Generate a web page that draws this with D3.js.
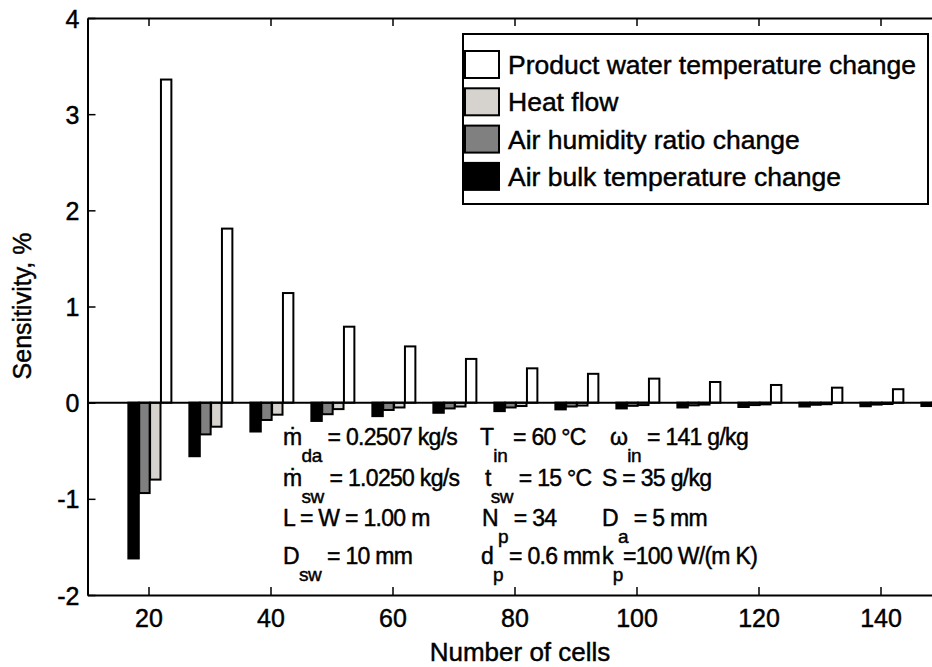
<!DOCTYPE html>
<html>
<head>
<meta charset="utf-8">
<script src="https://cdn.jsdelivr.net/npm/d3@7"></script>
<style>
  body { margin: 0; background: #fff; }
  svg { display: block; overflow: hidden; }
  text { font-family: "Liberation Sans", Arial, sans-serif; fill: #000; stroke: #000; stroke-width: 0.45px; }
</style>
</head>
<body>
<svg id="chart" width="932" height="667"></svg>
<script>
// number of cells on x axis
const cells = [20, 30, 40, 50, 60, 70, 80, 90, 100, 110, 120, 130, 140, 150];
// sensitivities, %
const airBulkTemp = [-1.62, -0.557, -0.30, -0.19, -0.14, -0.105, -0.088, -0.07, -0.06, -0.05, -0.045, -0.04, -0.037, -0.035];
const airHumidity = [-0.94, -0.33, -0.18, -0.12, -0.076, -0.06, -0.05, -0.04, -0.033, -0.028, -0.025, -0.022, -0.02, -0.018];
const heatFlow = [-0.80, -0.25, -0.125, -0.067, -0.05, -0.04, -0.035, -0.03, -0.025, -0.02, -0.018, -0.016, -0.014, -0.013];
const productWater = [3.36, 1.81, 1.14, 0.79, 0.585, 0.455, 0.357, 0.30, 0.25, 0.215, 0.184, 0.156, 0.14, 0.12];

const seriesNames = ["Air bulk temperature change", "Air humidity ratio change", "Heat flow", "Product water temperature change"];
const seriesColors = ["#000000", "#808080", "#d6d3ce", "#ffffff"];
const seriesValues = [airBulkTemp, airHumidity, heatFlow, productWater];

const xTicks = [20, 40, 60, 80, 100, 120, 140];
const yTicks = [-2, -1, 0, 1, 2, 3, 4];

let svg = d3.select("#chart");

let x = d3.scaleLinear().domain([10, 150]).range([87.5, 941.5]);
let y = d3.scaleLinear().domain([-2, 4]).range([595, 18]);

// offsets of the 4 bars inside a group, in cell units
let inner = d3.scaleBand().domain(d3.range(4)).range([-3.3, 3.75]).paddingInner(0.04);

// bars
seriesValues.forEach(function(vals, s) {
    svg.append("g")
        .selectAll("rect")
        .data(vals)
        .enter().append("rect")
        .attr("x", (d, i) => x(cells[i] + inner(s)))
        .attr("width", x(inner.bandwidth()) - x(0))
        .attr("y", d => Math.min(y(d), y(0)))
        .attr("height", d => Math.abs(y(d) - y(0)))
        .attr("fill", seriesColors[s])
        .attr("stroke", "#000")
        .attr("stroke-width", 2);
});

// baseline at zero
svg.append("line")
    .attr("x1", x(10)).attr("x2", x(150))
    .attr("y1", y(0)).attr("y2", y(0))
    .attr("stroke", "#000").attr("stroke-width", 2);

// axes (ticks pointing inward, like matlab)
let axB = svg.append("g").attr("transform", "translate(0," + y(-2) + ")")
    .call(d3.axisBottom(x).tickValues(xTicks).tickSizeInner(-8).tickSizeOuter(0).tickPadding(14).tickFormat(d => d));
let axT = svg.append("g").attr("transform", "translate(0," + y(4) + ")")
    .call(d3.axisTop(x).tickValues(xTicks).tickSizeInner(-8).tickSizeOuter(0).tickFormat(""));
let axL = svg.append("g").attr("transform", "translate(" + x(10) + ",0)")
    .call(d3.axisLeft(y).tickValues(yTicks).tickSizeInner(-8).tickSizeOuter(0).tickPadding(8).tickFormat(d => d));

[axB, axT, axL].forEach(function(a) {
    a.select(".domain").attr("stroke-width", 2);
    a.selectAll(".tick line").attr("stroke-width", 1.5);
    a.selectAll(".tick text")
        .style("font-family", "'Liberation Sans', Arial, sans-serif")
        .style("font-size", "25px")
        .attr("stroke", "#000").attr("stroke-width", 0.6);
});
axL.selectAll(".tick text").attr("dy", "0.36em");

// axis titles
svg.append("text")
    .attr("x", 520).attr("y", 661)
    .attr("text-anchor", "middle")
    .style("font-size", "26px")
    .text("Number of cells");
svg.append("text")
    .attr("transform", "translate(31,306) rotate(-90)")
    .attr("text-anchor", "middle")
    .style("font-size", "25px")
    .text("Sensitivity, %");

// legend
let legend = svg.append("g");
legend.append("rect")
    .attr("x", 463).attr("y", 34).attr("width", 465).attr("height", 170)
    .attr("fill", "#fff").attr("stroke", "#000").attr("stroke-width", 2);
let legendOrder = [3, 2, 1, 0];
legendOrder.forEach(function(s, k) {
    let top = 51 + k * 37.3;
    legend.append("rect")
        .attr("x", 465).attr("y", top).attr("width", 34).attr("height", 27)
        .attr("fill", seriesColors[s]).attr("stroke", "#000").attr("stroke-width", 2);
    legend.append("text")
        .attr("x", 508).attr("y", top + 23)
        .style("font-size", "26.5px")
        .text(seriesNames[s]);
});

// parameter annotations: [x, y, main, sub, rest]
const notes = [
    [283, 445, "\u1E41", "da", " = 0.2507 kg/s"],
    [480, 445, "T", "in", " = 60 \u00B0C"],
    [610, 445, "\u03C9", "in", " = 141 g/kg"],
    [283, 486, "\u1E41", "sw", " = 1.0250 kg/s"],
    [485, 486, "t", "sw", " = 15 \u00B0C"],
    [602, 486, "S = 35 g/kg", "", ""],
    [283, 526, "L = W = 1.00 m", "", ""],
    [482, 526, "N", "p", " = 34"],
    [602, 526, "D", "a", " = 5 mm"],
    [283, 564, "D", "sw", " = 10 mm"],
    [481, 564, "d", "p", " = 0.6 mm"],
    [602, 564, "k", "p", "=100 W/(m K)"]
];
let ann = svg.append("g").style("font-size", "23px").style("letter-spacing", "-0.7px");
notes.forEach(function(n) {
    let t = ann.append("text").attr("x", n[0]).attr("y", n[1]);
    t.append("tspan").text(n[2]);
    if (n[3]) {
        t.append("tspan").attr("dy", 17).style("font-size", "19px").style("letter-spacing", "-0.4px").text(n[3]);
        t.append("tspan").attr("dy", -17).text(n[4]);
    }
});
</script>
</body>
</html>
